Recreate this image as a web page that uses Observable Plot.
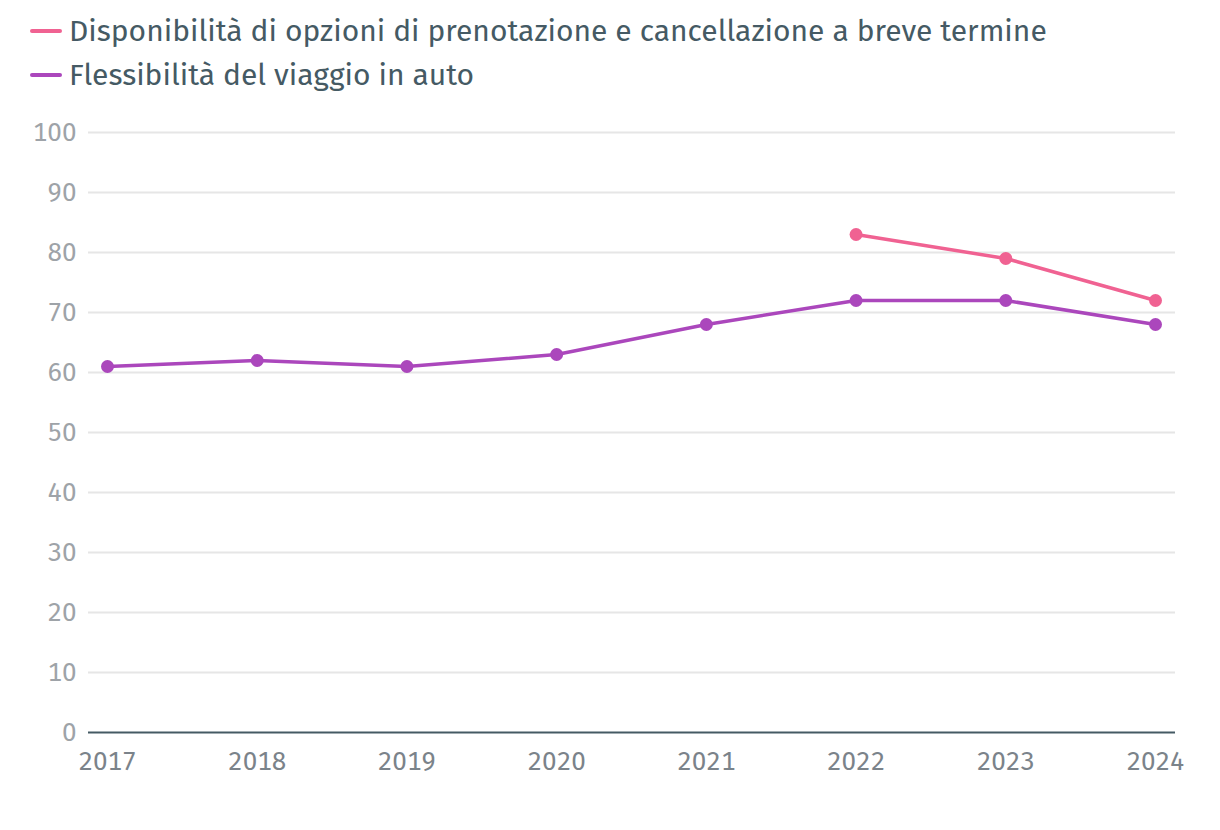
<!DOCTYPE html>
<html>
<head>
<meta charset="utf-8">
<script src="https://cdn.jsdelivr.net/npm/d3@7"></script>
<script src="https://cdn.jsdelivr.net/npm/@observablehq/plot@0.6"></script>
<style>
  html, body { margin: 0; padding: 0; background: #fff; }
  body { width: 1220px; height: 830px; overflow: hidden; font-family: "Fira Sans", Roboto, sans-serif; }
  #legend { height: 100px; box-sizing: border-box; padding: 9px 0 0 30px; }
  .item { display: flex; align-items: center; height: 44px; font-size: 30px; color: #455a64; }
  .sw { width: 32px; height: 4px; border-radius: 2px; margin-right: 7px; }
</style>
</head>
<body>
<div id="legend"></div>
<div id="chart"></div>
<script>
const years = [2017, 2018, 2019, 2020, 2021, 2022, 2023, 2024];
const seriesNames = [
  "Disponibilità di opzioni di prenotazione e cancellazione a breve termine",
  "Flessibilità del viaggio in auto"
];
const colors = ["#f06292", "#ab47bc"];
const prenotazioneYears = [2022, 2023, 2024];
const prenotazioneValues = [83, 79, 72];
const flessibilitaYears = [2017, 2018, 2019, 2020, 2021, 2022, 2023, 2024];
const flessibilitaValues = [61, 62, 61, 63, 68, 72, 72, 68];
const yTicks = [0, 10, 20, 30, 40, 50, 60, 70, 80, 90, 100];

const data = [
  ...prenotazioneYears.map((y, i) => ({year: y, value: prenotazioneValues[i], series: seriesNames[0]})),
  ...flessibilitaYears.map((y, i) => ({year: y, value: flessibilitaValues[i], series: seriesNames[1]}))
];

const legend = document.getElementById("legend");
seriesNames.forEach((n, i) => {
  const d = document.createElement("div");
  d.className = "item";
  d.innerHTML = `<span class="sw" style="background:${colors[i]}"></span><span>${n}</span>`;
  legend.appendChild(d);
});

const chart = Plot.plot({
  width: 1220,
  height: 730,
  marginTop: 32,
  marginBottom: 98,
  marginLeft: 88,
  marginRight: 45,
  insetLeft: 19,
  insetRight: 20,
  style: {fontFamily: '"Fira Sans", Roboto, sans-serif', fontSize: "26px", background: "#fff"},
  x: {domain: [2017, 2024], ticks: years, tickFormat: d => String(d), label: null},
  y: {domain: [0, 100], ticks: yTicks, label: null},
  color: {domain: seriesNames, range: colors},
  marks: [
    Plot.ruleY(yTicks.filter(t => t > 0), {stroke: "#e6e6e6", strokeWidth: 2}),
    Plot.axisY({ticks: yTicks, tickSize: 0, tickPadding: 12, fill: "#9ea3a8", label: null}),
    Plot.axisX({ticks: years, tickSize: 0, tickPadding: 19, fill: "#7b838a", tickFormat: d => String(d), label: null}),
    Plot.ruleY([0], {stroke: "#455a64", strokeWidth: 2}),
    Plot.line(data, {x: "year", y: "value", z: "series", stroke: "series", strokeWidth: 3.5}),
    Plot.dot(data, {x: "year", y: "value", fill: "series", r: 6.5})
  ]
});
document.getElementById("chart").appendChild(chart);
</script>
</body>
</html>
